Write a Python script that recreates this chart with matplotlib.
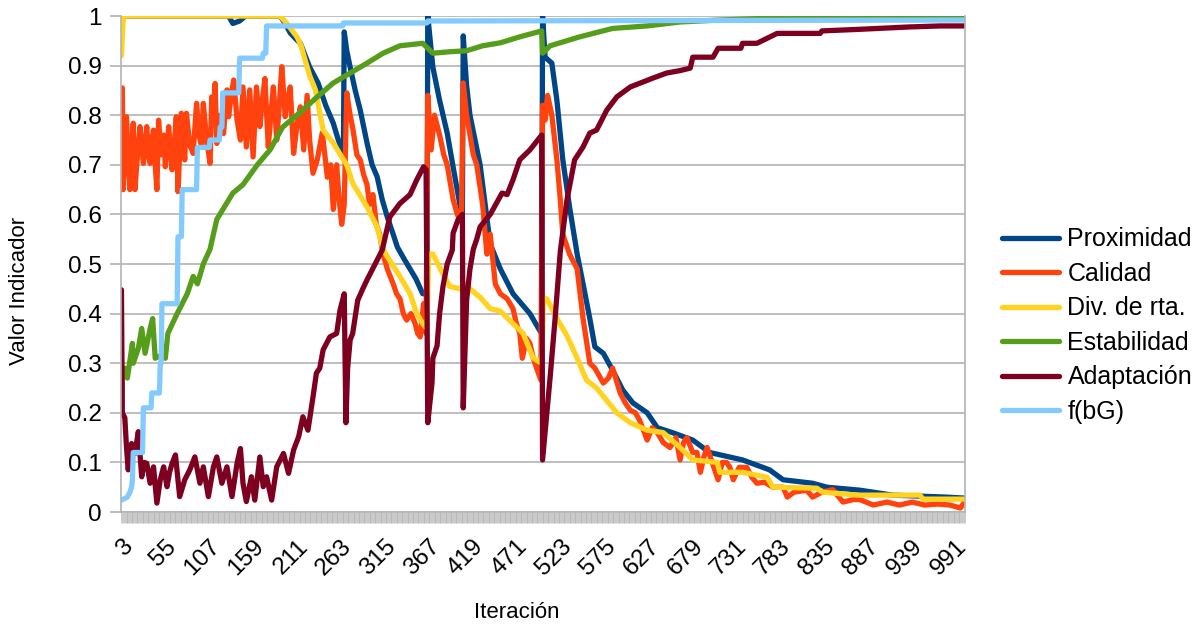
import matplotlib.pyplot as plt

# (iteration, value) pairs
PROXIMIDAD = [
    (3, 1.0), (130, 1.0), (135, 0.985), (143, 0.99), (150, 1.0), (191, 1.0), (197, 0.985),
    (203, 0.966), (209, 0.955), (215, 0.945), (226, 0.897), (236, 0.865), (245, 0.82),
    (254, 0.784), (260, 0.75), (266, 0.722), (267, 0.968), (270, 0.93), (274, 0.897),
    (280, 0.85), (286, 0.81), (294, 0.744), (300, 0.70), (306, 0.676), (312, 0.63),
    (318, 0.595), (325, 0.56), (330, 0.534), (338, 0.51), (345, 0.49), (352, 0.47),
    (360, 0.44), (365, 0.44), (366, 1.0), (372, 0.897), (380, 0.83), (389, 0.764),
    (396, 0.696), (404, 0.62), (407, 0.60), (408, 0.96), (412, 0.86), (416, 0.80),
    (428, 0.70), (440, 0.54), (452, 0.49), (467, 0.44), (487, 0.40), (499, 0.365),
    (501, 0.36), (502, 1.0), (505, 0.917), (513, 0.905), (519, 0.83), (526, 0.71),
    (534, 0.615), (543, 0.52), (550, 0.46), (558, 0.39), (564, 0.333), (574, 0.32),
    (585, 0.286), (597, 0.246), (609, 0.22), (626, 0.20), (638, 0.17), (656, 0.16),
    (680, 0.145), (700, 0.12), (739, 0.105), (771, 0.085), (787, 0.065), (822, 0.058),
    (839, 0.05), (878, 0.044), (917, 0.034), (981, 0.03), (1002, 0.028),
]

CALIDAD = [
    (3, 0.65), (4, 0.855), (5, 0.65), (7, 0.76), (9, 0.797), (11, 0.70), (13, 0.65),
    (15, 0.74), (17, 0.784), (19, 0.65), (22, 0.72), (25, 0.777), (27, 0.74), (29, 0.703),
    (33, 0.777), (35, 0.72), (37, 0.703), (39, 0.75), (41, 0.770), (43, 0.70), (45, 0.65),
    (47, 0.790), (50, 0.72), (53, 0.76), (55, 0.696), (59, 0.777), (61, 0.73), (63, 0.690),
    (66, 0.75), (68, 0.797), (70, 0.646), (74, 0.804), (76, 0.75), (78, 0.710),
    (80, 0.804), (84, 0.74), (88, 0.723), (92, 0.824), (95, 0.76), (98, 0.736),
    (100, 0.824), (104, 0.75), (108, 0.703), (110, 0.837), (112, 0.78), (114, 0.864),
    (116, 0.743), (120, 0.80), (124, 0.763), (128, 0.851), (130, 0.797), (133, 0.84),
    (136, 0.871), (140, 0.79), (144, 0.750), (147, 0.857), (151, 0.736), (155, 0.851),
    (159, 0.716), (163, 0.857), (167, 0.777), (170, 0.83), (173, 0.874), (177, 0.736),
    (180, 0.80), (183, 0.857), (187, 0.750), (190, 0.82), (193, 0.898), (197, 0.797),
    (200, 0.83), (203, 0.857), (207, 0.723), (211, 0.78), (215, 0.817), (219, 0.730),
    (223, 0.84), (226, 0.75), (230, 0.683), (235, 0.71), (241, 0.765), (247, 0.675),
    (251, 0.70), (254, 0.61), (258, 0.70), (261, 0.63), (264, 0.58), (267, 0.62),
    (270, 0.845), (274, 0.80), (277, 0.775), (282, 0.72), (286, 0.71), (290, 0.68),
    (294, 0.66), (297, 0.62), (301, 0.64), (305, 0.58), (309, 0.56), (313, 0.52),
    (318, 0.49), (325, 0.46), (329, 0.44), (333, 0.43), (337, 0.40), (341, 0.387),
    (346, 0.40), (351, 0.38), (354, 0.36), (357, 0.353), (361, 0.42), (364, 0.36),
    (366, 0.84), (370, 0.73), (374, 0.80), (380, 0.76), (385, 0.72), (389, 0.70),
    (393, 0.66), (396, 0.63), (401, 0.60), (404, 0.59), (406, 0.61), (408, 0.865),
    (412, 0.80), (416, 0.76), (420, 0.72), (424, 0.70), (431, 0.62), (436, 0.52),
    (440, 0.56), (446, 0.46), (452, 0.44), (460, 0.43), (467, 0.41), (471, 0.38),
    (475, 0.36), (478, 0.31), (483, 0.35), (487, 0.34), (491, 0.31), (495, 0.29),
    (500, 0.266), (502, 0.82), (505, 0.79), (508, 0.84), (513, 0.80), (519, 0.71),
    (523, 0.63), (526, 0.56), (534, 0.52), (543, 0.49), (550, 0.39), (558, 0.30),
    (564, 0.29), (574, 0.26), (580, 0.27), (585, 0.29), (594, 0.24), (600, 0.22),
    (606, 0.205), (612, 0.20), (617, 0.185), (626, 0.145), (632, 0.17), (638, 0.16),
    (645, 0.14), (653, 0.13), (660, 0.15), (665, 0.105), (669, 0.14), (673, 0.15),
    (680, 0.12), (685, 0.12), (689, 0.08), (693, 0.11), (697, 0.13), (703, 0.10),
    (710, 0.065), (715, 0.10), (720, 0.10), (724, 0.09), (728, 0.065), (735, 0.09),
    (744, 0.09), (750, 0.07), (756, 0.058), (765, 0.06), (775, 0.05), (787, 0.05),
    (792, 0.03), (800, 0.04), (815, 0.044), (822, 0.03), (833, 0.04), (846, 0.045),
    (858, 0.02), (870, 0.025), (878, 0.025), (894, 0.014), (910, 0.02), (925, 0.014),
    (940, 0.02), (955, 0.014), (970, 0.016), (985, 0.014), (997, 0.008), (1002, 0.02),
]

DIV_RTA = [
    (3, 0.92), (5, 0.99), (6, 1.0), (191, 1.0), (199, 0.985), (211, 0.958), (216, 0.94),
    (220, 0.915), (226, 0.88), (233, 0.85), (242, 0.77), (254, 0.744), (264, 0.716),
    (270, 0.70), (277, 0.663), (294, 0.615), (306, 0.575), (313, 0.53), (318, 0.515),
    (333, 0.475), (345, 0.44), (353, 0.40), (360, 0.38), (365, 0.37), (367, 0.52),
    (372, 0.52), (384, 0.48), (392, 0.455), (404, 0.45), (412, 0.46), (416, 0.45),
    (428, 0.433), (440, 0.41), (452, 0.405), (467, 0.38), (479, 0.36), (491, 0.31),
    (501, 0.30), (503, 0.43), (507, 0.43), (519, 0.39), (531, 0.355), (543, 0.31),
    (554, 0.266), (566, 0.25), (578, 0.225), (590, 0.20), (606, 0.18), (626, 0.165),
    (645, 0.16), (665, 0.13), (680, 0.105), (709, 0.10), (712, 0.08), (739, 0.08),
    (768, 0.07), (775, 0.05), (827, 0.048), (834, 0.04), (875, 0.034), (949, 0.034),
    (953, 0.026), (1002, 0.026),
]

ESTABILIDAD = [
    (3, 0.2), (4, 0.27), (7, 0.29), (10, 0.27), (16, 0.34), (17, 0.30), (23, 0.33),
    (27, 0.37), (31, 0.32), (37, 0.37), (40, 0.39), (43, 0.31), (49, 0.315), (55, 0.31),
    (58, 0.36), (69, 0.40), (81, 0.44), (88, 0.475), (93, 0.46), (100, 0.50), (108, 0.53),
    (116, 0.59), (135, 0.643), (147, 0.66), (164, 0.70), (179, 0.73), (194, 0.776),
    (215, 0.806), (235, 0.837), (254, 0.865), (274, 0.885), (294, 0.905), (313, 0.925),
    (333, 0.94), (360, 0.945), (366, 0.935), (372, 0.925), (392, 0.928), (412, 0.93),
    (431, 0.94), (452, 0.946), (475, 0.958), (501, 0.97), (502, 0.925), (511, 0.94),
    (546, 0.958), (585, 0.975), (626, 0.98), (665, 0.988), (712, 0.992), (760, 0.995),
    (866, 0.998), (1002, 1.0),
]

ADAPTACION = [
    (3, 0.448), (4, 0.20), (7, 0.19), (9, 0.13), (11, 0.085), (15, 0.138), (19, 0.118),
    (23, 0.162), (27, 0.071), (30, 0.10), (33, 0.098), (37, 0.058), (41, 0.091), (45, 0.018),
    (49, 0.065), (53, 0.091), (57, 0.051), (60, 0.08), (63, 0.098), (67, 0.115), (72, 0.031),
    (78, 0.065), (84, 0.085), (90, 0.111), (96, 0.058), (100, 0.091), (106, 0.031),
    (112, 0.091), (116, 0.111), (122, 0.058), (128, 0.091), (134, 0.031), (140, 0.098),
    (144, 0.128), (147, 0.058), (151, 0.021), (157, 0.071), (161, 0.024), (167, 0.111),
    (171, 0.051), (175, 0.071), (181, 0.024), (187, 0.091), (195, 0.118), (201, 0.078),
    (207, 0.125), (213, 0.152), (218, 0.192), (224, 0.165), (230, 0.232), (234, 0.28),
    (238, 0.29), (242, 0.327), (250, 0.353), (258, 0.36), (262, 0.407), (267, 0.44),
    (269, 0.18), (271, 0.29), (274, 0.347), (277, 0.36), (283, 0.427), (289, 0.45),
    (294, 0.468), (300, 0.488), (306, 0.508), (312, 0.528), (321, 0.595), (333, 0.622),
    (345, 0.64), (353, 0.67), (361, 0.696), (364, 0.69), (366, 0.18), (371, 0.26),
    (372, 0.31), (377, 0.335), (380, 0.40), (384, 0.455), (389, 0.50), (395, 0.528),
    (396, 0.562), (402, 0.59), (407, 0.60), (408, 0.21), (412, 0.427), (416, 0.49),
    (420, 0.53), (424, 0.55), (428, 0.575), (440, 0.60), (454, 0.643), (460, 0.64),
    (467, 0.67), (475, 0.71), (487, 0.73), (499, 0.756), (501, 0.76), (502, 0.105),
    (511, 0.272), (517, 0.393), (523, 0.525), (531, 0.63), (540, 0.71), (550, 0.736),
    (558, 0.764), (566, 0.77), (578, 0.81), (590, 0.837), (606, 0.857), (621, 0.867),
    (633, 0.875), (649, 0.885), (665, 0.89), (677, 0.895), (680, 0.917), (704, 0.917),
    (710, 0.935), (737, 0.935), (739, 0.945), (756, 0.945), (768, 0.955), (780, 0.965),
    (831, 0.965), (833, 0.97), (875, 0.973), (937, 0.978), (973, 0.98), (1002, 0.98),
]

F_BG = [
    (3, 0.024), (10, 0.03), (13, 0.04), (15, 0.05), (16, 0.065), (17, 0.12), (28, 0.12),
    (29, 0.21), (38, 0.21), (39, 0.24), (48, 0.24), (49, 0.30), (50, 0.30), (51, 0.42),
    (69, 0.42), (70, 0.555), (74, 0.555), (75, 0.65), (92, 0.65), (93, 0.735), (107, 0.735),
    (108, 0.75), (119, 0.75), (120, 0.776), (122, 0.776), (123, 0.845), (142, 0.845),
    (143, 0.915), (170, 0.915), (171, 0.925), (174, 0.925), (175, 0.98), (265, 0.98),
    (266, 0.986), (365, 0.986), (366, 0.99), (1002, 0.992),
]

SERIES = [
    ("Proximidad", PROXIMIDAD, "#004586"),
    ("Calidad", CALIDAD, "#ff420e"),
    ("Div. de rta.", DIV_RTA, "#ffd320"),
    ("Estabilidad", ESTABILIDAD, "#579d1c"),
    ("Adaptación", ADAPTACION, "#7e0021"),
    ("f(bG)", F_BG, "#83caff"),
]

X_LABELS = [3, 55, 107, 159, 211, 263, 315, 367, 419, 471, 523, 575, 627, 679,
            731, 783, 835, 887, 939, 991]
FIRST_ITER = 3
LAST_ITER = 1002

plt.rcParams["font.family"] = ["Liberation Sans", "DejaVu Sans"]

fig = plt.figure(figsize=(12.03, 6.26), dpi=100)
ax = fig.add_axes([0.1006, 0.1821, 0.7015, 0.7923])

for name, pts, color in SERIES:
    xs = [p[0] for p in pts]
    ys = [p[1] for p in pts]
    ax.plot(xs, ys, color=color, lw=3.8, label=name,
            solid_joinstyle="round", solid_capstyle="round")

ax.set_xlim(FIRST_ITER - 0.5, LAST_ITER + 0.5)
ax.set_ylim(0, 1)
ax.set_yticks([i / 10 for i in range(11)])
ax.set_yticklabels(["0"] + [f"{i / 10:g}" for i in range(1, 10)] + ["1"], fontsize=17.5)
ax.set_xticks(X_LABELS)
ax.set_xticklabels([str(v) for v in X_LABELS], rotation=45, ha="right",
                   rotation_mode="anchor", fontsize=17.5)
ax.set_xticks(range(FIRST_ITER, LAST_ITER + 1), minor=True)
ax.tick_params(axis="x", which="both", direction="out", length=8, width=0.5,
               color="#b3b3b3", pad=9)
ax.tick_params(axis="y", which="both", direction="out", length=8, width=1.2,
               color="#b3b3b3", pad=6)
ax.grid(axis="y", color="#b3b3b3", lw=1.2)
ax.set_axisbelow(True)
for side in ("left", "right", "bottom"):
    ax.spines[side].set_color("#b3b3b3")
    ax.spines[side].set_linewidth(1.2)
ax.spines["top"].set_visible(False)

fig.text(20 / 1203, 1 - 291 / 626, "Valor Indicador", rotation=90, fontsize=16,
         ha="center", va="center")
fig.text(517 / 1203, 1 - 613 / 626, "Iteración", fontsize=16, ha="center", va="center")

leg = fig.legend(loc="center left", bbox_to_anchor=(0.8246, 0.48), frameon=False,
                 borderaxespad=0, fontsize=18, handlelength=2.3, handletextpad=0.32,
                 labelspacing=0.42)
for line in leg.get_lines():
    line.set_linewidth(3.8)

fig.savefig("out.png", dpi=100)
